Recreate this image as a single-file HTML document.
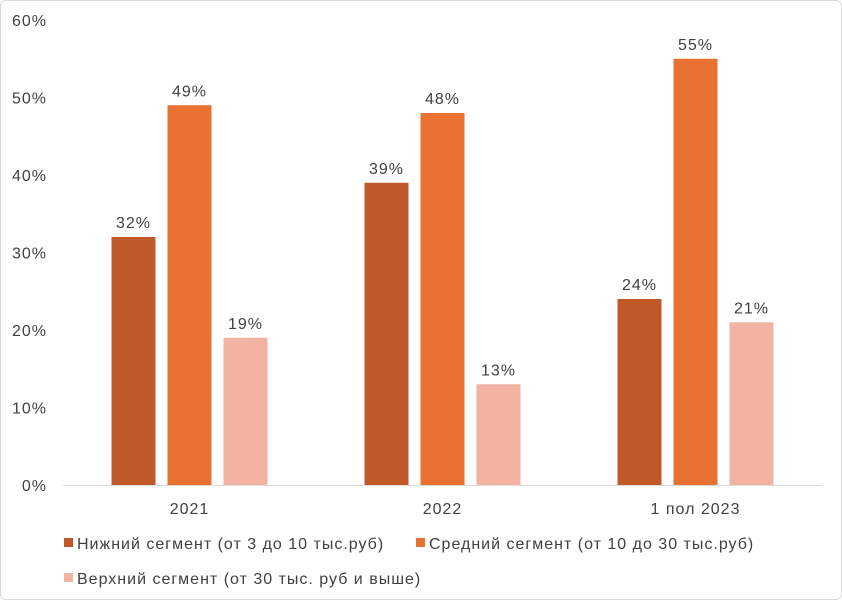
<!DOCTYPE html>
<html><head><meta charset="utf-8"><style>
html,body{margin:0;padding:0;background:#fff}
#wrap{width:840px;height:598px;border:1px solid #d9d9d9;border-radius:6px;position:relative;overflow:hidden;background:#fff}
svg text{font-family:"Liberation Sans",sans-serif;fill:#404040;letter-spacing:1px}
</style></head><body>
<div id="wrap">
<svg id="chart" width="840" height="598"></svg>
</div>
<script>
const categories=["2021","2022","1 пол 2023"];
const lowerSeg=[32,39,24];
const middleSeg=[49,48,55];
const upperSeg=[19,13,21];
const seriesNames=["Нижний сегмент (от 3 до 10 тыс.руб)","Средний сегмент (от 10 до 30 тыс.руб)","Верхний сегмент (от 30 тыс. руб и выше)"];
const yTicks=[0,10,20,30,40,50,60];

const colors=["#C0582A","#E97132","#F2B3A3"];
const series=[lowerSeg,middleSeg,upperSeg];
const svg=document.getElementById('chart');
const NS="http://www.w3.org/2000/svg";
const y0=484,yTop=19,yMax=60;
const y=v=>y0-(v/yMax)*(y0-yTop);
const plotL=62,plotR=821,groupW=(plotR-plotL)/categories.length;
const xc=i=>plotL+groupW*(i+0.5);
const barW=44,gap=12;
function el(t,a,txt){const e=document.createElementNS(NS,t);for(const k in a)e.setAttribute(k,a[k]);if(txt!=null)e.textContent=txt;svg.appendChild(e);return e;}

yTicks.forEach(t=>{
  const e=el('text',{x:46,y:y(t)+6,'text-anchor':'end','font-size':16},t+'%');
  
  
});
const ax=el('line',{x1:plotL,x2:plotR,y1:y0+0.5,y2:y0+0.5,stroke:'#d9d9d9','stroke-width':1});



categories.forEach((c,i)=>{
  const lt=el('text',{x:xc(i),y:513,'text-anchor':'middle','font-size':16},c);
  
  
  series.forEach((s,j)=>{
    const bx=xc(i)+(j-1)*(barW+gap)-barW/2;
    const r=el('rect',{x:bx,y:y(s[i]),width:barW,height:y0-y(s[i]),fill:colors[j]});
    
    
    const t=el('text',{x:bx+barW/2,y:y(s[i])-9,'text-anchor':'middle','font-size':16},s[i]+'%');
    
    
  });
});

const legPos=[[63,548],[415,548],[63,583]];
seriesNames.forEach((n,j)=>{
  const [lx,ly]=legPos[j];
  const r=el('rect',{x:lx,y:ly-11,width:9,height:9,fill:colors[j]});
  
  
  const t=el('text',{x:lx+13,y:ly,'font-size':16},n);
  
  
});
</script>
</body></html>
